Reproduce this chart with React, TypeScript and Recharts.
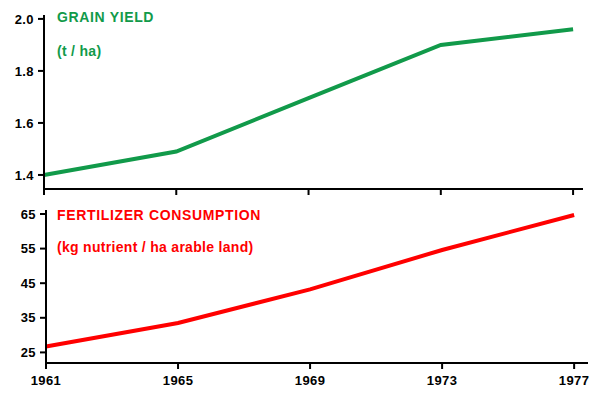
import { LineChart, Line, XAxis, YAxis } from "recharts";

// ---- Data ----
const years = [1961, 1965, 1969, 1973, 1977];
const grainYield = [1.4, 1.49, 1.695, 1.9, 1.96];
const fertilizer = [26.7, 33.5, 43.2, 54.6, 64.7];
const yieldTicks = [1.4, 1.6, 1.8, 2.0];
const fertTicks = [25, 35, 45, 55, 65];

const yieldRows = years.map((year, i) => ({ year, value: grainYield[i] }));
const fertRows = years.map((year, i) => ({ year, value: fertilizer[i] }));

const GREEN = "#119A4A";
const RED = "#FF0000";
const FONT = "'Liberation Sans', Arial, sans-serif";

const tickStyle = {
  fontSize: 13,
  fontWeight: 700,
  fill: "#000",
  fontFamily: FONT,
  letterSpacing: 0.4,
};

export default function App() {
  return (
    <div
      style={{
        position: "fixed",
        left: 0,
        top: 0,
        width: 602,
        height: 394,
        background: "#fff",
        fontFamily: FONT,
      }}
    >
      {/* top panel: grain yield */}
      <div style={{ position: "absolute", left: 0, top: 0 }}>
        <LineChart width={602} height={200} data={yieldRows} margin={{ top: 15, right: 19, bottom: 0, left: 0 }}>
          <XAxis
            dataKey="year"
            type="number"
            domain={[1961, 1977.3]}
            ticks={years}
            height={11}
            tickFormatter={() => ""}
            axisLine={{ stroke: "#000", strokeWidth: 2 }}
            tickLine={{ stroke: "#000", strokeWidth: 2 }}
            tickSize={6}
          />
          <YAxis
            type="number"
            domain={[1.346, 2.015]}
            ticks={yieldTicks}
            width={44}
            tickFormatter={(v) => Number(v).toFixed(1)}
            tick={tickStyle}
            axisLine={{ stroke: "#000", strokeWidth: 2 }}
            tickLine={{ stroke: "#000", strokeWidth: 2 }}
            tickSize={6}
            tickMargin={4}
          />
          <Line
            type="linear"
            dataKey="value"
            stroke={GREEN}
            strokeWidth={4}
            dot={false}
            isAnimationActive={false}
          />
        </LineChart>
      </div>

      {/* bottom panel: fertilizer consumption */}
      <div style={{ position: "absolute", left: 0, top: 196 }}>
        <LineChart width={602} height={198} data={fertRows} margin={{ top: 14, right: 14, bottom: 0, left: 0 }}>
          <XAxis
            dataKey="year"
            type="number"
            domain={[1961, 1977.42]}
            ticks={years}
            height={31}
            tick={tickStyle}
            axisLine={{ stroke: "#000", strokeWidth: 2 }}
            tickLine={{ stroke: "#000", strokeWidth: 2 }}
            tickSize={6}
            tickMargin={7}
          />
          <YAxis
            type="number"
            domain={[21.94, 66.15]}
            ticks={fertTicks}
            width={46}
            tick={tickStyle}
            axisLine={{ stroke: "#000", strokeWidth: 2 }}
            tickLine={{ stroke: "#000", strokeWidth: 2 }}
            tickSize={6}
            tickMargin={4}
          />
          <Line
            type="linear"
            dataKey="value"
            stroke={RED}
            strokeWidth={4}
            dot={false}
            isAnimationActive={false}
          />
        </LineChart>
      </div>

      {/* titles */}
      <svg width={602} height={394} style={{ position: "absolute", left: 0, top: 0, pointerEvents: "none" }}>
        <g fontFamily={FONT} fontWeight={700} fontSize={14}>
          <text x={57} y={22} fill={GREEN} letterSpacing={0.65}>GRAIN YIELD</text>
          <text x={57} y={56} fill={GREEN} letterSpacing={0.3}>(t / ha)</text>
          <text x={57} y={220} fill={RED} letterSpacing={0.65}>FERTILIZER CONSUMPTION</text>
          <text x={57} y={252} fill={RED} letterSpacing={0.3}>(kg nutrient / ha arable land)</text>
        </g>
      </svg>
    </div>
  );
}
